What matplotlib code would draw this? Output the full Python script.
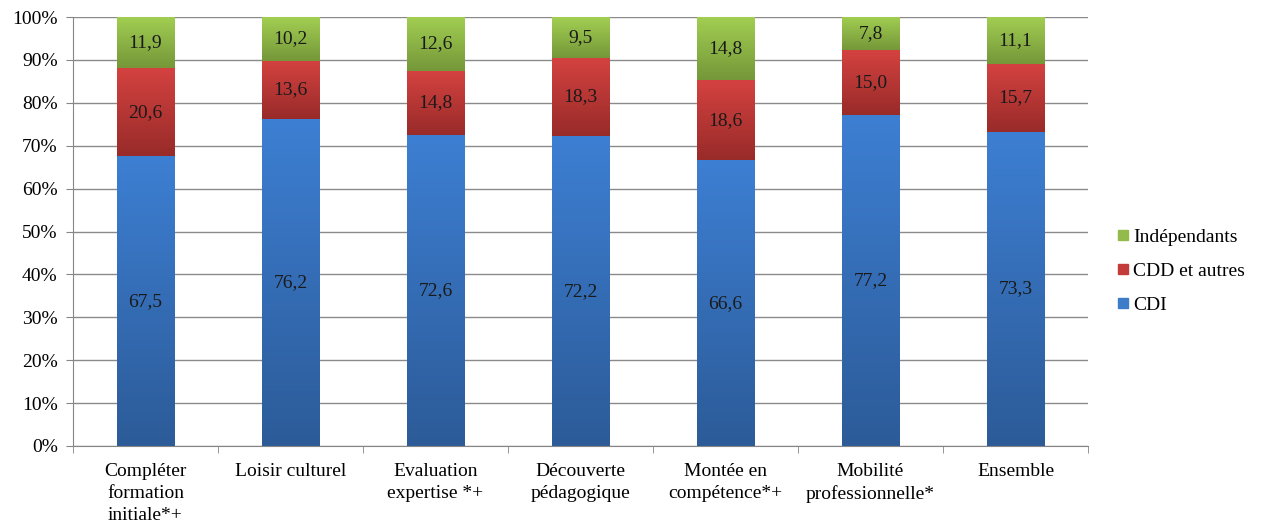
import matplotlib
matplotlib.use("Agg")
import matplotlib.pyplot as plt
import numpy as np
from matplotlib.colors import LinearSegmentedColormap
from matplotlib.lines import Line2D

categories = ["Compléter\nformation\ninitiale*+", "Loisir culturel", "Evaluation\nexpertise *+",
              "Découverte\npédagogique", "Montée en\ncompétence*+", "Mobilité\nprofessionnelle*", "Ensemble"]
cdi = [67.5, 76.2, 72.6, 72.2, 66.6, 77.2, 73.3]
cdd = [20.6, 13.6, 14.8, 18.3, 18.6, 15.0, 15.7]
indep = [11.9, 10.2, 12.6, 9.5, 14.8, 7.8, 11.1]
series_names = ["CDI", "CDD et autres", "Indépendants"]
yticks = [0, 10, 20, 30, 40, 50, 60, 70, 80, 90, 100]

# (top colour, bottom colour, legend colour)
colors = [("#3d7fd3", "#2c5b98", "#3d7cc9"),
          ("#d44240", "#982b29", "#c43c3a"),
          ("#a2cf52", "#759739", "#93bb4b")]

FS = 14
plt.rcParams['font.family'] = ['Liberation Serif', 'DejaVu Serif']
fig = plt.figure(figsize=(12.65, 5.29), dpi=100)
ax = fig.add_axes([73/1265, 83/529, (1088-73)/1265, (446-17)/529])

x = np.arange(len(categories))
w = 0.4
grad = np.linspace(1, 0, 256).reshape(-1, 1)
bottoms = np.zeros(len(categories))
for vals, (ctop, cbot, _) in zip([cdi, cdd, indep], colors):
    cmap = LinearSegmentedColormap.from_list("g", [cbot, ctop])
    for xi, v, b in zip(x, vals, bottoms):
        top = min(b + v, 100)
        ax.imshow(grad, cmap=cmap, extent=(xi - w/2, xi + w/2, b, top),
                  aspect='auto', origin='upper', zorder=2, interpolation='bilinear')
        ax.text(xi, (b + top)/2, f"{v:.1f}".replace('.', ','), ha='center', va='center',
                fontsize=FS, color='#1a1a1a', zorder=3)
    bottoms = bottoms + np.array(vals)

ax.set_xlim(-0.5, len(categories) - 0.5)
ax.set_ylim(0, 100)
ax.set_yticks(yticks)
ax.set_yticklabels([f"{t}%" for t in yticks], fontsize=FS)
ax.set_xticks(x)
ax.set_xticklabels(categories, fontsize=FS, linespacing=1.4, va='top')
ax.set_xticks(np.arange(len(categories) + 1) - 0.5, minor=True)
ax.tick_params(axis='x', which='major', length=0, pad=12)
ax.tick_params(axis='x', which='minor', length=5, color='#868686')
ax.tick_params(axis='y', length=5, color='#868686', pad=6)
ax.grid(axis='y', color='#8a8a8a', linewidth=1.0, zorder=1)
ax.set_axisbelow(True)
for s in ['top', 'right']:
    ax.spines[s].set_visible(False)
for s in ['left', 'bottom']:
    ax.spines[s].set_color('#868686')
    ax.spines[s].set_zorder(4)

handles = [Line2D([], [], marker='s', linestyle='none', markersize=7, color=c[2]) for c in colors]
leg = fig.legend(handles[::-1], series_names[::-1], loc='center left',
                 bbox_to_anchor=(1098/1265, 1 - 271/529), frameon=False,
                 fontsize=14, handletextpad=0.1, labelspacing=0.85, handlelength=0.8)

fig.savefig("out.png", dpi=100)
